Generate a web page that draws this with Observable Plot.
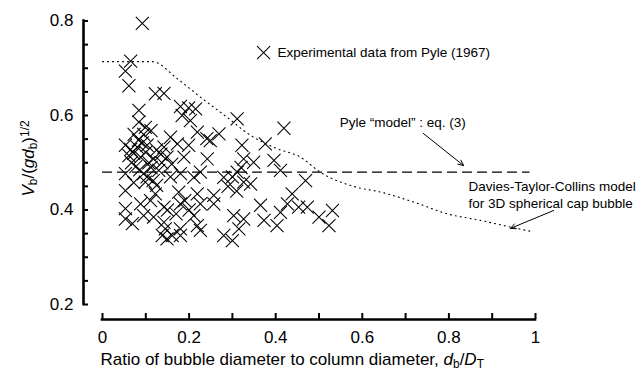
<!DOCTYPE html>
<html><head><meta charset="utf-8">
<script src="https://cdn.jsdelivr.net/npm/d3@7"></script>
<script src="https://cdn.jsdelivr.net/npm/@observablehq/plot@0.6"></script>
<style>body{margin:0;background:#fff;} svg{display:block;}</style>
</head><body><div id="chart"></div>
<script>
// Experimental data from Pyle (1967): d_b/D_T and V_b/(g d_b)^1/2
const pyleX = [0.092,0.065,0.053,0.061,0.122,0.142,0.084,0.180,0.199,0.215,0.311,0.419,0.184,0.203,0.084,0.099,0.219,0.269,0.241,0.157,
0.053,0.080,0.103,0.142,0.173,0.199,0.249,0.322,0.376,0.061,0.088,0.118,0.149,0.188,0.242,0.326,0.349,0.396,
0.053,0.095,0.099,0.130,0.180,0.211,0.226,0.280,0.311,0.326,0.342,0.411,0.053,0.122,0.176,0.219,0.257,
0.053,0.088,0.111,0.142,0.180,0.226,0.257,0.365,0.053,0.069,0.095,0.118,0.142,0.211,0.219,0.303,0.326,0.373,0.403,0.315,
0.145,0.180,0.138,0.149,0.161,0.180,0.226,0.280,0.300,
0.469,0.438,0.427,0.453,0.473,0.411,0.500,0.531,0.523,
0.065,0.072,0.067,0.077,0.083,0.092,0.100,0.107,0.112,0.125,0.135,0.103,0.117,0.125,0.072,0.086,0.137,0.160,0.157,0.095,0.112,0.073,
0.150,0.190,0.200,0.170,0.300,0.320,0.290,0.310];
const pyleY = [0.795,0.715,0.694,0.663,0.646,0.647,0.611,0.619,0.616,0.614,0.593,0.573,0.600,0.589,0.586,0.575,0.565,0.561,0.551,0.554,
0.537,0.533,0.537,0.533,0.540,0.537,0.547,0.537,0.540,0.515,0.512,0.508,0.512,0.512,0.508,0.508,0.501,0.505,
0.477,0.477,0.459,0.484,0.477,0.469,0.480,0.469,0.480,0.459,0.455,0.484,0.441,0.434,0.438,0.434,0.431,
0.403,0.413,0.420,0.406,0.413,0.413,0.413,0.410,0.381,0.371,0.388,0.385,0.374,0.388,0.367,0.388,0.381,0.378,0.367,0.360,
0.360,0.360,0.346,0.339,0.346,0.346,0.357,0.346,0.335,
0.462,0.434,0.413,0.406,0.406,0.395,0.385,0.399,0.367,
0.528,0.520,0.500,0.492,0.548,0.542,0.522,0.500,0.490,0.527,0.518,0.470,0.462,0.452,0.458,0.485,0.500,0.497,0.470,0.560,0.568,0.560,
0.400,0.420,0.400,0.392,0.470,0.490,0.450,0.440];

// Pyle "model": eq. (3)
const pyleModelX = [0, 0.985];
const pyleModelY = [0.48, 0.48];

// Davies-Taylor-Collins model for 3D spherical cap bubble
const dtcX = [0, 0.115, 0.1725, 0.226, 0.288, 0.342, 0.403, 0.457, 0.503, 0.588, 0.642, 0.718, 0.796, 0.873, 0.942, 0.988];
const dtcY = [0.714, 0.714, 0.678, 0.639, 0.596, 0.558, 0.530, 0.512, 0.480, 0.448, 0.438, 0.417, 0.392, 0.378, 0.364, 0.355];

// axes
const xMajor = [0, 0.2, 0.4, 0.6, 0.8, 1];
const xMajorLabels = ["0", "0.2", "0.4", "0.6", "0.8", "1"];
const xTicks = [0, 0.1, 0.2, 0.3, 0.4, 0.5, 0.6, 0.7, 0.8, 0.9, 1];
const yMajor = [0.2, 0.4, 0.6, 0.8];
const yMajorLabels = ["0.2", "0.4", "0.6", "0.8"];
const yTicks = [0.2, 0.25, 0.3, 0.35, 0.4, 0.45, 0.5, 0.55, 0.6, 0.65, 0.7, 0.75, 0.8];
const xTitle = "Ratio of bubble diameter to column diameter, db/DT";
const yTitle = "Vb/(gdb)1/2";

// annotations (data coordinates)
const legendLabel = ["Experimental data from Pyle (1967)"];
const legendPos = [{x: 0.372, y: 0.733}];
const pyleNote = [{x: 0.548, y: 0.585, text: "Pyle “model” : eq. (3)"}];
const dtcNote = [{x: 0.845, y: 0.434, text: "Davies-Taylor-Collins model\nfor 3D spherical cap bubble"}];
const arrows = [
  {x1: 0.741, y1: 0.562, x2: 0.834, y2: 0.494},
  {x1: 1.042, y1: 0.399, x2: 0.942, y2: 0.361}
];

const pyle = pyleX.map((x, i) => ({x, y: pyleY[i]}));
const dtc = dtcX.map((x, i) => ({x, y: dtcY[i]}));
const pyleModel = pyleModelX.map((x, i) => ({x, y: pyleModelY[i]}));

const font = "'Liberation Sans', Arial, Helvetica, sans-serif";

const chart = Plot.plot({
  width: 643,
  height: 370,
  marginLeft: 102,
  marginRight: 108,
  marginTop: 20.5,
  marginBottom: 66,
  x: {domain: [0, 1], axis: null},
  y: {domain: [0.2, 0.8], axis: null},
  style: {fontFamily: font, background: "white", color: "black"},
  marks: [
    // y axis
    Plot.ruleX([0], {x: d => d, y1: 0.2, y2: 0.8, dx: -19, strokeWidth: 2.6, strokeLinecap: "square", stroke: "black"}),
    Plot.ruleY(yTicks, {y: d => d, x1: 0, x2: 0, insetLeft: -19, insetRight: 14, strokeWidth: 2, stroke: "black"}),
    Plot.text(yMajor, {x: 0, y: d => d, text: (d, i) => yMajorLabels[i], textAnchor: "end", dx: -29, fontSize: 17}),
    // x axis
    Plot.ruleY([0.2], {y: d => d, x1: 0, x2: 1, dy: 15, strokeWidth: 2.6, strokeLinecap: "square", stroke: "black"}),
    Plot.ruleX(xTicks, {x: d => d, y1: 0.2, y2: 0.2, insetTop: 9, insetBottom: -15, strokeWidth: 2, stroke: "black"}),
    Plot.text(xMajor, {x: d => d, y: 0.2, text: (d, i) => xMajorLabels[i], dy: 33, fontSize: 17}),
    // titles
    Plot.text([xTitle], {x: 0, y: 0.2, text: d => d, textAnchor: "start", dx: -2, dy: 55, fontSize: 17}),
    Plot.text([yTitle], {x: 0, y: 0.509, text: d => d, rotate: -90, dx: -74, fontSize: 17}),
    // models
    Plot.line(pyleModel, {x: "x", y: "y", stroke: "black", strokeWidth: 1.2, strokeDasharray: "9,6"}),
    Plot.line(dtc, {x: "x", y: "y", curve: "monotone-x", stroke: "black", strokeWidth: 1.1, strokeDasharray: "1,4"}),
    // data
    Plot.dot(pyle, {x: "x", y: "y", symbol: "times", r: 6, stroke: "black", strokeWidth: 1.05}),
    // legend
    Plot.dot(legendPos, {x: "x", y: "y", symbol: "times", r: 6, stroke: "black", strokeWidth: 1.05}),
    Plot.text(legendLabel, {x: legendPos[0].x, y: legendPos[0].y, text: d => d, textAnchor: "start", dx: 14, fontSize: 13.5}),
    // annotations
    Plot.text(pyleNote, {x: "x", y: "y", text: "text", textAnchor: "start", fontSize: 13.5}),
    Plot.text(dtcNote, {x: "x", y: "y", text: "text", textAnchor: "start", fontSize: 13.5, lineHeight: 1.25}),
    Plot.arrow(arrows, {x1: "x1", y1: "y1", x2: "x2", y2: "y2", stroke: "black", strokeWidth: 1, headLength: 9, headAngle: 50})
  ]
});

// rich formatting for axis titles (italics, sub/superscripts)
chart.querySelectorAll("text").forEach(t => {
  if (t.textContent === yTitle) {
    t.innerHTML = '<tspan font-style="italic">V</tspan><tspan baseline-shift="-25%" font-size="70%">b</tspan><tspan>/(</tspan><tspan font-style="italic">gd</tspan><tspan baseline-shift="-25%" font-size="70%">b</tspan><tspan>)</tspan><tspan baseline-shift="45%" font-size="70%">1/2</tspan>';
  } else if (t.textContent === xTitle) {
    t.innerHTML = '<tspan>Ratio of bubble diameter to column diameter, </tspan><tspan font-style="italic">d</tspan><tspan baseline-shift="-25%" font-size="70%">b</tspan><tspan>/</tspan><tspan font-style="italic">D</tspan><tspan baseline-shift="-25%" font-size="70%">T</tspan>';
  }
});

document.getElementById("chart").appendChild(chart);
</script>
</body></html>
